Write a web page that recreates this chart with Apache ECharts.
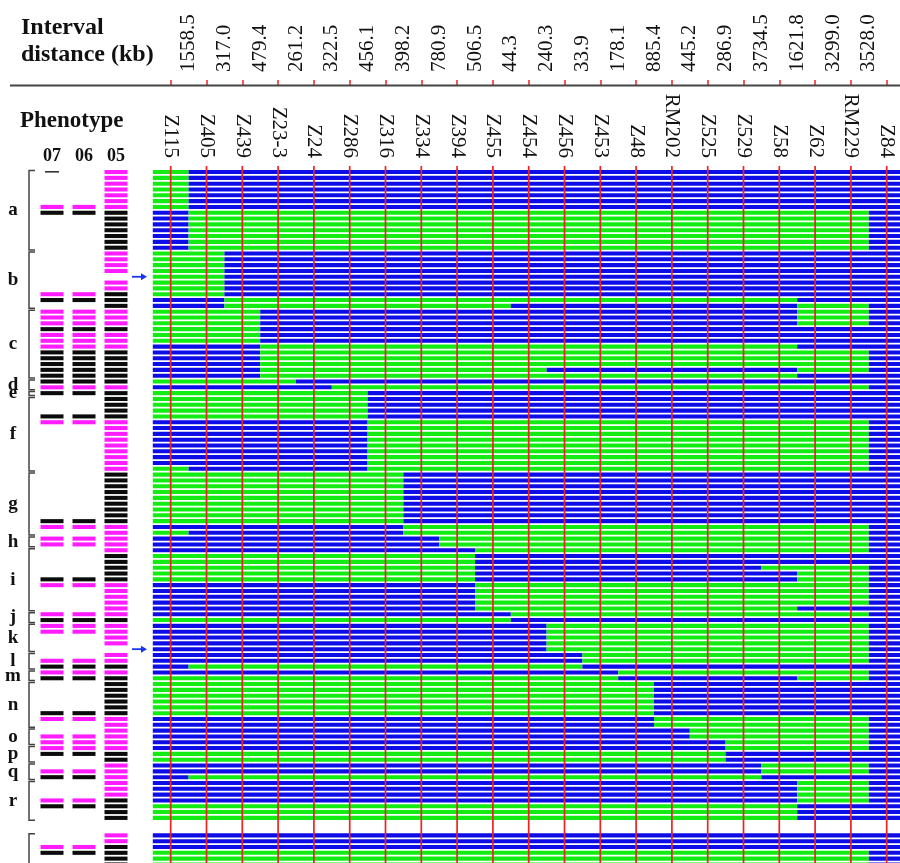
<!DOCTYPE html>
<html><head><meta charset="utf-8">
<script src="https://cdn.jsdelivr.net/npm/echarts@6/dist/echarts.min.js"></script>
<style>html,body{margin:0;padding:0;background:#fff}#c{width:900px;height:863px}</style>
</head><body><div id="c"></div>
<script>
// ---------------- data ----------------
const markers = ['Z115','Z405','Z439','Z23-3','Z24','Z286','Z316','Z334','Z394','Z455','Z454','Z456','Z453','Z48','RM202','Z525','Z529','Z58','Z62','RM229','Z84'];
const intervals = ['1558.5','317.0','479.4','261.2','322.5','456.1','398.2','780.9','506.5','44.3','240.3','33.9','178.1','885.4','445.2','286.9','3734.5','1621.8','3299.0','3528.0'];
const phenoYears = ['07','06','05'];

// genotype of each line: [number of lines, run-length genotype over the 21 markers]
// G = green allele, B = blue allele, '' = empty line
const genotypeRuns = [
  [7,'G1B20'],[7,'B1G19B1'],[8,'G2B19'],[1,'B2G16B3'],[1,'B2G8B8G2B1'],
  [3,'G3B15G2B1'],[3,'G3B18'],[1,'B3G15B3'],[3,'B3G17B1'],[1,'B3G8B7G2B1'],[1,'B3G15B3'],
  [1,'G4B17'],[1,'B5G15B1'],[5,'G6B15'],[8,'B6G14B1'],[1,'G1B5G14B1'],
  [9,'G7B14'],[1,'B7G13B1'],[1,'G1B6G13B1'],[2,'B8G12B1'],[1,'B9G11B1'],
  [2,'G9B12'],[1,'G9B8G3B1'],[2,'G9B9G2B1'],[4,'B9G11B1'],[1,'B9G9B3'],
  [1,'B10G10B1'],[1,'G10B11'],[5,'B11G9B1'],[2,'B12G8B1'],[1,'B1G11B9'],
  [1,'B13G7B1'],[1,'G13B5G2B1'],[6,'G14B7'],[2,'B14G6B1'],[2,'B15G5B1'],
  [2,'B16G4B1'],[2,'G16B5'],[2,'B17G3B1'],[1,'B1G16B4'],[4,'B18G2B1'],[3,'G18B3'],
  [2,''],[3,'B21'],[3,'G20B1']
];
// phenotype per line: M = magenta, K = black, T = thin dash, _ = none
const pheno07Runs = [[1,'T'],[5,'_'],[1,'M'],[1,'K'],[13,'_'],[1,'M'],[1,'K'],[1,'_'],[3,'M'],[1,'K'],[3,'M'],[6,'K'],[1,'M'],[1,'K'],[3,'_'],[1,'K'],[1,'M'],[16,'_'],[1,'K'],[1,'M'],[1,'_'],[2,'M'],[5,'_'],[1,'K'],[1,'M'],[4,'_'],[1,'M'],[1,'K'],[2,'M'],[4,'_'],[1,'M'],[1,'K'],[1,'M'],[1,'K'],[5,'_'],[1,'K'],[1,'M'],[2,'_'],[3,'M'],[1,'K'],[2,'_'],[1,'M'],[1,'K'],[3,'_'],[1,'M'],[1,'K'],[6,'_'],[1,'M'],[1,'K'],[2,'_']];
const pheno06Runs = [[6,'_'],[1,'M'],[1,'K'],[13,'_'],[1,'M'],[1,'K'],[1,'_'],[3,'M'],[1,'K'],[3,'M'],[6,'K'],[1,'M'],[1,'K'],[3,'_'],[1,'K'],[1,'M'],[16,'_'],[1,'K'],[1,'M'],[1,'_'],[2,'M'],[5,'_'],[1,'K'],[1,'M'],[4,'_'],[1,'M'],[1,'K'],[2,'M'],[4,'_'],[1,'M'],[1,'K'],[1,'M'],[1,'K'],[5,'_'],[1,'K'],[1,'M'],[2,'_'],[3,'M'],[1,'K'],[2,'_'],[1,'M'],[1,'K'],[3,'_'],[1,'M'],[1,'K'],[6,'_'],[1,'M'],[1,'K'],[2,'_']];
const pheno05Runs = [[7,'M'],[7,'K'],[4,'M'],[1,'_'],[2,'M'],[3,'K'],[3,'M'],[1,'K'],[3,'M'],[6,'K'],[1,'M'],[5,'K'],[9,'M'],[9,'K'],[5,'M'],[5,'K'],[6,'M'],[1,'K'],[4,'M'],[1,'_'],[2,'M'],[1,'K'],[1,'M'],[7,'K'],[2,'M'],[4,'M'],[2,'K'],[6,'M'],[4,'K'],[2,'_'],[2,'M'],[4,'K']];

const groupLabels = ['a','b','c','d','e','f','g','h','i','j','k','l','m','n','o','p','q','r',''];
const groupStart  = [0,14,24,36,38,39,52,63,65,76,78,83,86,88,96,99,102,105,114];
const groupEnd    = [13,23,35,37,38,51,62,64,75,77,82,85,87,95,98,101,104,111,122];
const arrowRows = [18, 82];

// ---------------- build ----------------
const GREEN='#13ec13', BLUE='#0d0de8', MAG='#ff1cff', BLK='#0b0b0b', RED='#ee2222';
const segData = [];
let row = 0;
genotypeRuns.forEach(([n, code]) => {
  const cols = [];
  code.replace(/([GB])(\d+)/g, (m, g, k) => { for (let i=0;i<+k;i++) cols.push(g); return m; });
  for (let j=0;j<n;j++) {
    let s = 0;
    for (let i=1;i<=cols.length;i++) {
      if (i===cols.length || cols[i]!==cols[s]) { segData.push([s, i-1, row, cols[s]==='G'?0:1]); s=i; }
    }
    row++;
  }
});
const phenoData = [];
[pheno07Runs, pheno06Runs, pheno05Runs].forEach((runs, ci) => {
  let r = 0;
  runs.forEach(([n, c]) => {
    for (let j=0;j<n;j++) { if (c!=='_') phenoData.push([ci, r, c==='M'?0:(c==='K'?1:2)]); r++; }
  });
});
const groupData = groupLabels.map((l,i)=>[0, groupStart[i], groupEnd[i], i]);
const arrowData = arrowRows.map(r=>[2, r]);

const ROWMAX = 119.1, SERIF = 'Liberation Serif';
const chart = echarts.init(document.getElementById('c'), null, {width:900, height:863});
chart.setOption({
  animation:false,
  backgroundColor:'#fff',
  title:[
    {text:'Interval\ndistance (kb)', left:21, top:14, padding:0, textStyle:{fontFamily:SERIF, fontWeight:'bold', fontSize:24, lineHeight:27, color:'#111'}},
    {text:'Phenotype', left:20, top:110, padding:0, textStyle:{fontFamily:SERIF, fontWeight:'bold', fontSize:23, color:'#111'}}
  ],
  graphic:[{type:'line', shape:{x1:10,y1:85.5,x2:900,y2:85.5}, style:{stroke:'#444', lineWidth:2}, z:1}],
  grid:[
    {left:152.8, width:751.8, top:170, height:693, outerBoundsMode:'none'},
    {left:36, width:96, top:170, height:693, outerBoundsMode:'none'},
    {left:170.7, width:716, top:85, height:1, outerBoundsMode:'none'}
  ],
  xAxis:[
    {gridIndex:0, type:'category', data:markers, position:'top', boundaryGap:true,
     axisLine:{show:false}, axisTick:{show:false}, splitLine:{show:false},
     axisLabel:{interval:0, rotate:-90, margin:12, fontFamily:SERIF, fontSize:21, color:'#111'}},
    {gridIndex:1, type:'category', data:phenoYears, position:'top', boundaryGap:true,
     axisLine:{show:false}, axisTick:{show:false},
     axisLabel:{interval:0, margin:5, fontFamily:SERIF, fontWeight:'bold', fontSize:18, color:'#111'}},
    {gridIndex:2, type:'category', data:intervals, position:'top', boundaryGap:true,
     axisLine:{show:false}, axisTick:{show:true, interval:0, length:6, lineStyle:{color:RED, width:1.5}},
     axisLabel:{interval:0, rotate:90, margin:13, fontFamily:SERIF, fontSize:21, color:'#111'}}
  ],
  yAxis:[
    {gridIndex:0, type:'value', min:0, max:ROWMAX, inverse:true, show:false},
    {gridIndex:1, type:'value', min:0, max:ROWMAX, inverse:true, show:false},
    {gridIndex:2, type:'value', min:0, max:1, show:false}
  ],
  series:[
    {type:'custom', name:'genotype', xAxisIndex:0, yAxisIndex:0, encode:{x:0, y:2}, data:segData, z:2,
     renderItem:(params, api)=>{
       const s=api.value(0), e=api.value(1), r=api.value(2), c=api.value(3);
       const p=api.coord([s, r]); const sz=api.size([1,1]);
       return {type:'rect', shape:{x:p[0]-sz[0]/2, y:p[1], width:sz[0]*(e-s+1), height:sz[1]*0.7}, style:{fill:c?BLUE:GREEN}};
     }},
    {type:'custom', name:'markers', xAxisIndex:0, yAxisIndex:0, encode:{x:0, y:1}, data:markers.map((m,i)=>[i,0]), z:3,
     renderItem:(params, api)=>{
       const x=api.coord([api.value(0),0])[0]; const cs=params.coordSys;
       return {type:'line', shape:{x1:x, y1:cs.y-4, x2:x, y2:cs.y+cs.height}, style:{stroke:RED, lineWidth:1.7}};
     }},
    {type:'custom', name:'phenotype', xAxisIndex:1, yAxisIndex:1, encode:{x:0, y:1}, data:phenoData, z:2,
     renderItem:(params, api)=>{
       const c=api.value(0), r=api.value(1), k=api.value(2);
       const p=api.coord([c, r]); const sz=api.size([1,1]);
       if (k===2) return {type:'rect', shape:{x:p[0]-7, y:p[1]+1, width:14, height:1.6}, style:{fill:'#333'}};
       return {type:'rect', shape:{x:p[0]-11.5, y:p[1], width:23, height:sz[1]*0.7}, style:{fill:k?BLK:MAG}};
     }},
    {type:'custom', name:'groups', xAxisIndex:1, yAxisIndex:1, encode:{x:0, y:[1,2]}, data:groupData, z:2,
     renderItem:(params, api)=>{
       const s=api.value(1), e=api.value(2), i=api.value(3);
       const cs=params.coordSys; const bx=cs.x-7;
       const y1=api.coord([0,s])[1]+0.5, y2=api.coord([0,e+0.75])[1];
       const st={stroke:'#444', lineWidth:1.5, fill:null};
       return {type:'group', children:[
         {type:'polyline', shape:{points:[[bx+6,y1],[bx,y1],[bx,y2],[bx+6,y2]]}, style:st},
         {type:'text', style:{text:groupLabels[i], x:cs.x-23, y:(y1+y2)/2, align:'center', verticalAlign:'middle',
           font:'bold 19px "Liberation Serif"', fill:'#111'}}
       ]};
     }},
    {type:'custom', name:'arrows', xAxisIndex:1, yAxisIndex:1, encode:{x:0, y:1}, data:arrowData, z:2,
     renderItem:(params, api)=>{
       const r=api.value(1); const cs=params.coordSys;
       const y=api.coord([0, r+0.35])[1]; const x0=cs.x+cs.width;
       return {type:'group', children:[
         {type:'line', shape:{x1:x0, y1:y, x2:x0+10, y2:y}, style:{stroke:'#1535f0', lineWidth:1.8}},
         {type:'polygon', shape:{points:[[x0+9,y-3.5],[x0+15,y],[x0+9,y+3.5]]}, style:{fill:'#1535f0'}}
       ]};
     }}
  ]
});
</script></body></html>
